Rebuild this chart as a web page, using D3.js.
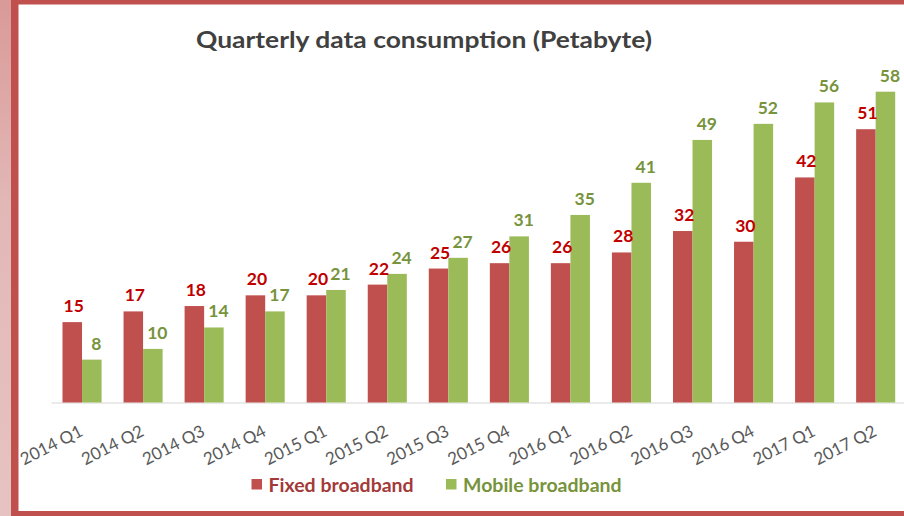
<!DOCTYPE html>
<html>
<head>
<meta charset="utf-8">
<script src="https://cdn.jsdelivr.net/npm/d3@7"></script>
<style>
  body { margin: 0; background: #fff; }
  svg { display: block; font-family: Lato, "Open Sans", sans-serif; }
</style>
</head>
<body>
<script>
// Chart data
const quarters = ['2014 Q1', '2014 Q2', '2014 Q3', '2014 Q4', '2015 Q1', '2015 Q2', '2015 Q3',
    '2015 Q4', '2016 Q1', '2016 Q2', '2016 Q3', '2016 Q4', '2017 Q1', '2017 Q2'];
const fixedBroadband = [15, 17, 18, 20, 20, 22, 25, 26, 26, 28, 32, 30, 42, 51];
const mobileBroadband = [8, 10, 14, 17, 21, 24, 27, 31, 35, 41, 49, 52, 56, 58];
const seriesNames = ['Fixed broadband', 'Mobile broadband'];

const W = 904, H = 516;
const barColors = ['#c0504d', '#9bbb59'];
const labelColors = ['#c00000', '#77933c'];
const legendColors = ['#a33a39', '#77933c'];

const svg = d3.select('body').append('svg')
    .attr('width', W)
    .attr('height', H);

// Slide background + red frame
svg.append('rect').attr('width', W).attr('height', H).attr('fill', '#c0504d');
const tex = svg.append('defs').append('linearGradient').attr('id', 'tex')
    .attr('x1', 0).attr('y1', 0).attr('x2', 0).attr('y2', 1);
tex.append('stop').attr('offset', 0).attr('stop-color', '#d99a98');
tex.append('stop').attr('offset', 0.4).attr('stop-color', '#e2b8b7');
tex.append('stop').attr('offset', 1).attr('stop-color', '#e6c3c2');
svg.append('rect').attr('width', 11).attr('height', H).attr('fill', 'url(#tex)');
svg.append('rect')
    .attr('x', 18.5).attr('y', 4.5)
    .attr('width', W - 18.5).attr('height', 511 - 4.5)
    .attr('fill', '#ffffff');

// Scales
const x0 = d3.scaleBand().domain(quarters).range([51.5, 906.2]).paddingInner(0.36).paddingOuter(0.18);
const x1 = d3.scaleBand().domain([0, 1]).range([0, x0.bandwidth()]);
const y = d3.scaleLinear().domain([0, 58]).range([402.5, 91.7]);

// Title
svg.append('text')
    .attr('x', 424).attr('y', 48)
    .attr('text-anchor', 'middle')
    .attr('font-size', 23).attr('font-weight', 700)
    .attr('fill', '#404040')
    .attr('textLength', 456).attr('lengthAdjust', 'spacingAndGlyphs')
    .text('Quarterly data consumption (Petabyte)');

// Baseline
svg.append('line')
    .attr('x1', 51.5).attr('x2', W)
    .attr('y1', y(0) + 0.5).attr('y2', y(0) + 0.5)
    .attr('stroke', '#e3e3e3').attr('stroke-width', 1.5);

// Bars
const rows = quarters.map((q, i) => ({ q, v: [fixedBroadband[i], mobileBroadband[i]] }));
const groups = svg.selectAll('g.grp')
    .data(rows)
    .join('g')
    .attr('class', 'grp')
    .attr('transform', (d) => `translate(${x0(d.q)},0)`);

groups.selectAll('rect')
    .data((d) => d.v.map((v, s) => ({ v, s })))
    .join('rect')
    .attr('x', (d) => x1(d.s))
    .attr('width', x1.bandwidth())
    .attr('y', (d) => y(d.v))
    .attr('height', (d) => y(0) - y(d.v))
    .attr('fill', (d) => barColors[d.s]);

// Value labels
groups.selectAll('text.val')
    .data((d) => d.v.map((v, s) => ({ v, s })))
    .join('text')
    .attr('class', 'val')
    .attr('x', (d) => x1(d.s) + x1.bandwidth() / 2 + (d.s === 0 ? 1.5 : 4.5))
    .attr('y', (d) => y(d.v) - 10)
    .attr('text-anchor', 'middle')
    .attr('font-size', 17.5).attr('font-weight', 700)
    .attr('fill', (d) => labelColors[d.s])
    .text((d) => d.v);

// X axis labels (rotated)
svg.selectAll('text.tick')
    .data(quarters)
    .join('text')
    .attr('class', 'tick')
    .attr('text-anchor', 'end')
    .attr('font-size', 17)
    .attr('fill', '#595959')
    .attr('transform', (d) => `translate(${x0(d) + x0.bandwidth() / 2 + 2},435) rotate(-27)`)
    .text((d) => d);

// Legend
const legend = svg.append('g');
const legendX = [251.5, 446];
seriesNames.forEach((name, i) => {
    legend.append('rect')
        .attr('x', legendX[i]).attr('y', 479)
        .attr('width', 10.5).attr('height', 10.5)
        .attr('fill', barColors[i]);
    legend.append('text')
        .attr('x', legendX[i] + 17).attr('y', 491.5)
        .attr('font-size', 19.5).attr('font-weight', 700)
        .attr('fill', legendColors[i])
        .text(name);
});
</script>
</body>
</html>
